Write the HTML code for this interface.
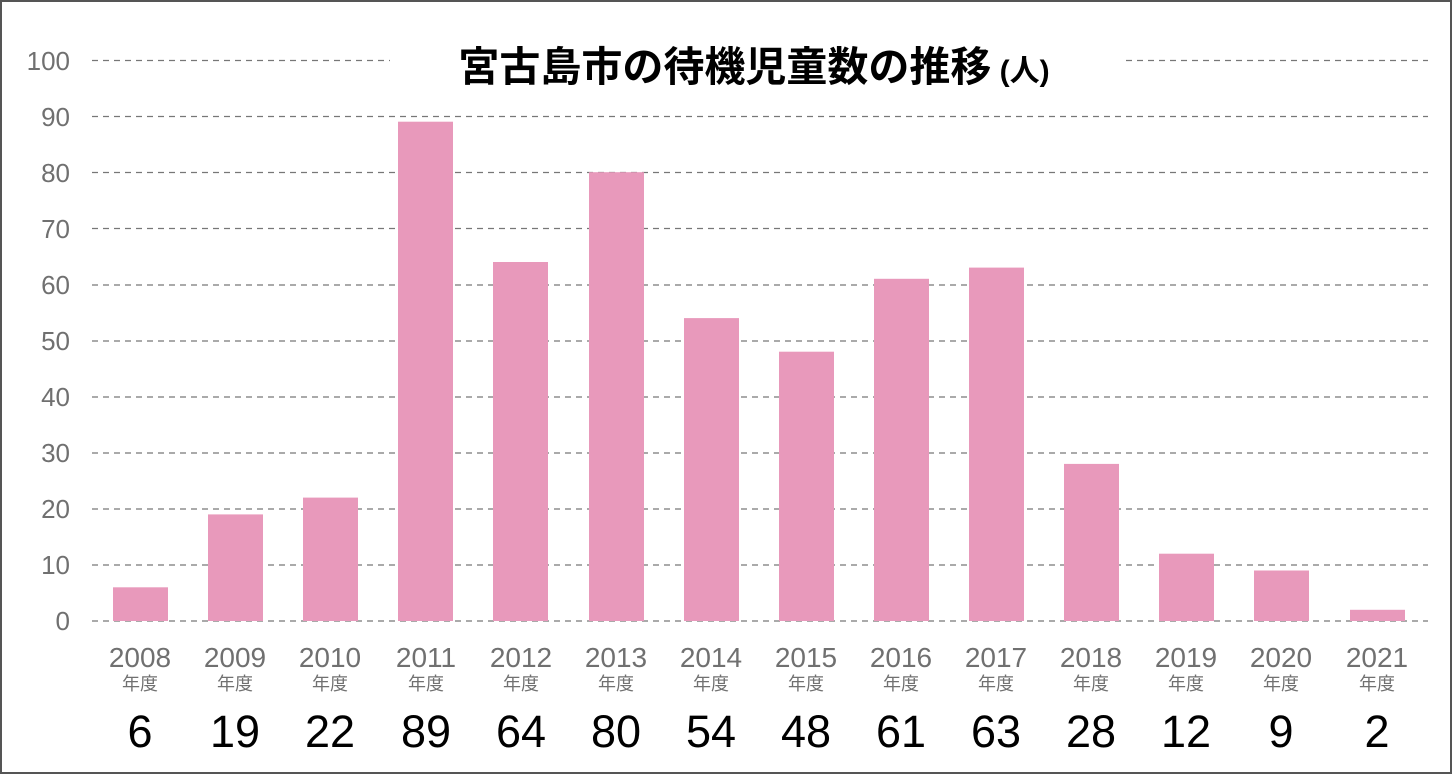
<!DOCTYPE html>
<html><head><meta charset="utf-8"><style>
html,body{margin:0;padding:0;background:#fff}
svg{display:block}
</style></head><body>
<svg width="1452" height="774" viewBox="0 0 1452 774" xmlns="http://www.w3.org/2000/svg" font-family="'Liberation Sans','Noto Sans CJK JP',sans-serif">
<rect x="1" y="1" width="1450" height="772" fill="#fff" stroke="#555" stroke-width="2"/>
<g stroke="#777" stroke-width="1.3" stroke-dasharray="6,5">
<line x1="92" x2="1428" y1="60.5" y2="60.5"/>
<line x1="92" x2="1428" y1="116.5" y2="116.5"/>
<line x1="92" x2="1428" y1="172.5" y2="172.5"/>
<line x1="92" x2="1428" y1="228.5" y2="228.5"/>
<line x1="92" x2="1428" y1="285" y2="285"/>
<line x1="92" x2="1428" y1="341" y2="341"/>
<line x1="92" x2="1428" y1="397" y2="397"/>
<line x1="92" x2="1428" y1="453" y2="453"/>
<line x1="92" x2="1428" y1="509" y2="509"/>
<line x1="92" x2="1428" y1="565" y2="565"/>
<line x1="92" x2="1428" y1="621" y2="621"/>
</g>
<g fill="#707070" font-size="26" text-anchor="end">
<text x="70" y="70">100</text><text x="70" y="126">90</text><text x="70" y="182">80</text>
<text x="70" y="238">70</text><text x="70" y="294">60</text><text x="70" y="350">50</text>
<text x="70" y="406">40</text><text x="70" y="462">30</text><text x="70" y="518">20</text>
<text x="70" y="574">10</text><text x="70" y="630">0</text>
</g>
<rect x="390" y="36" width="735" height="54" fill="#fff"/>
<text x="754" y="81" font-size="41" font-weight="bold" text-anchor="middle" fill="#000">宮古島市の待機児童数の推移<tspan font-size="30"> (人)</tspan></text>
<g fill="#e899bb">
<rect x="113" y="587.3" width="55" height="33.7"/>
<rect x="208" y="514.4" width="55" height="106.6"/>
<rect x="303" y="497.6" width="55" height="123.4"/>
<rect x="398" y="121.7" width="55" height="499.3"/>
<rect x="493" y="262" width="55" height="359"/>
<rect x="589" y="172.2" width="55" height="448.8"/>
<rect x="684" y="318.1" width="55" height="302.9"/>
<rect x="779" y="351.7" width="55" height="269.3"/>
<rect x="874" y="278.8" width="55" height="342.2"/>
<rect x="969" y="267.6" width="55" height="353.4"/>
<rect x="1064" y="463.9" width="55" height="157.1"/>
<rect x="1159" y="553.7" width="55" height="67.3"/>
<rect x="1254" y="570.5" width="55" height="50.5"/>
<rect x="1350" y="609.8" width="55" height="11.2"/>
</g>
<g fill="#707070" font-size="28" text-anchor="middle">
<text x="140" y="667">2008</text><text x="235" y="667">2009</text><text x="330" y="667">2010</text>
<text x="426" y="667">2011</text><text x="521" y="667">2012</text><text x="616" y="667">2013</text>
<text x="711" y="667">2014</text><text x="806" y="667">2015</text><text x="901" y="667">2016</text>
<text x="996" y="667">2017</text><text x="1091" y="667">2018</text><text x="1186" y="667">2019</text>
<text x="1281" y="667">2020</text><text x="1377" y="667">2021</text>
</g>
<g fill="#707070" font-size="18" text-anchor="middle">
<text x="140" y="690">年度</text><text x="235" y="690">年度</text><text x="330" y="690">年度</text>
<text x="426" y="690">年度</text><text x="521" y="690">年度</text><text x="616" y="690">年度</text>
<text x="711" y="690">年度</text><text x="806" y="690">年度</text><text x="901" y="690">年度</text>
<text x="996" y="690">年度</text><text x="1091" y="690">年度</text><text x="1186" y="690">年度</text>
<text x="1281" y="690">年度</text><text x="1377" y="690">年度</text>
</g>
<g fill="#000" font-size="45" text-anchor="middle">
<text x="140" y="747">6</text><text x="235" y="747">19</text><text x="330" y="747">22</text>
<text x="426" y="747">89</text><text x="521" y="747">64</text><text x="616" y="747">80</text>
<text x="711" y="747">54</text><text x="806" y="747">48</text><text x="901" y="747">61</text>
<text x="996" y="747">63</text><text x="1091" y="747">28</text><text x="1186" y="747">12</text>
<text x="1281" y="747">9</text><text x="1377" y="747">2</text>
</g>
</svg>
</body></html>
